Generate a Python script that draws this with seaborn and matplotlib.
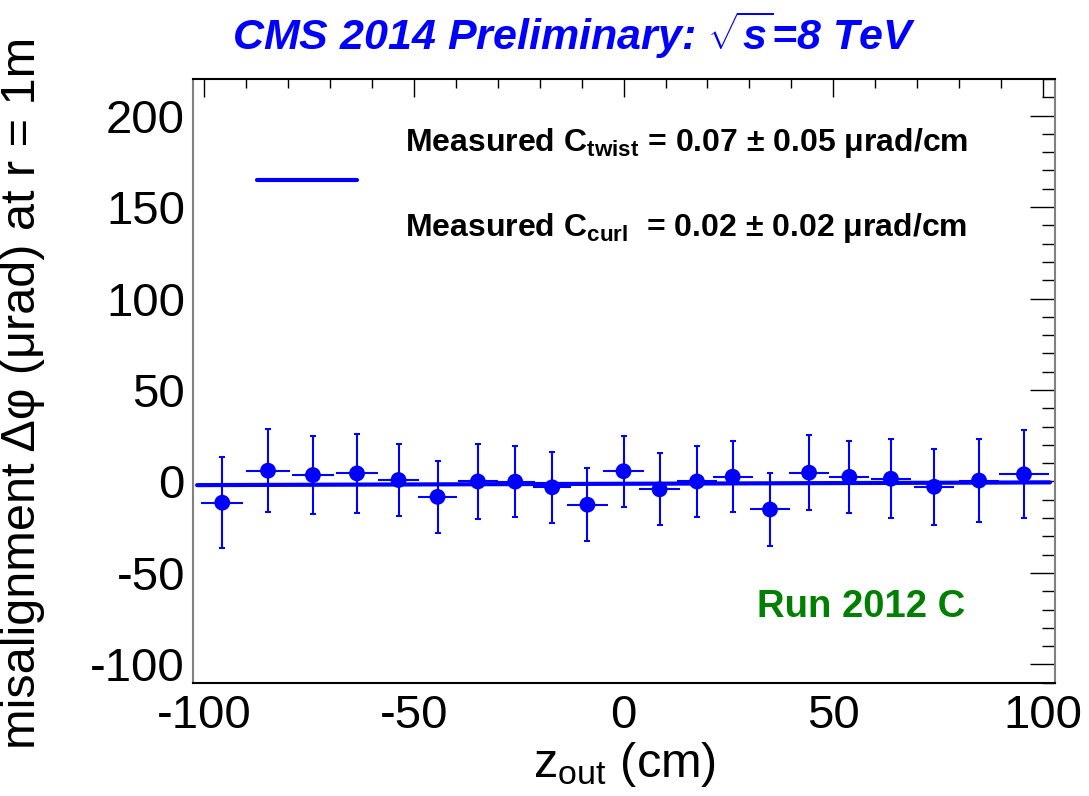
import numpy as np
import pandas as pd
import matplotlib.pyplot as plt
import seaborn as sns
from matplotlib.ticker import MultipleLocator

# Data
z_out = [-95.6, -84.7, -74.0, -63.5, -53.6, -44.3, -34.7, -25.8, -17.0, -8.6,
         0.0, 8.6, 17.5, 26.0, 34.9, 44.2, 53.8, 63.7, 74.0, 84.7, 95.4]
z_err = [5.0, 5.3, 5.0, 5.0, 4.8, 4.7, 4.8, 4.7, 4.6, 4.8,
         4.8, 4.8, 4.8, 4.8, 4.8, 4.8, 4.8, 4.8, 4.8, 4.8, 6.0]
dphi = [-11.6, 5.9, 3.5, 4.4, 0.8, -8.4, 0.0, -0.1, -3.2, -12.7,
        5.6, -4.3, 0.0, 2.6, -15.3, 4.8, 2.5, 1.5, -2.9, 0.5, 3.9]
dphi_err = [25.0, 22.6, 21.1, 21.8, 19.6, 19.8, 20.5, 19.4, 19.5, 20.0,
            19.5, 19.6, 19.4, 19.5, 20.2, 20.6, 19.8, 21.6, 20.9, 22.6, 24.1]

# fitted curve end points
fit_z = [-101.6, 101.6]
fit_dphi = [-2.0, -0.5]

df = pd.DataFrame({'z': z_out, 'dphi': dphi})
fit = pd.DataFrame({'z': fit_z, 'dphi': fit_dphi})

sns.set_theme(style='white')
plt.rcParams['font.family'] = ['Liberation Sans', 'DejaVu Sans']
plt.rcParams['text.color'] = 'black'
plt.rcParams['axes.labelcolor'] = 'black'
plt.rcParams['xtick.color'] = 'black'
plt.rcParams['ytick.color'] = 'black'
plt.rcParams['axes.unicode_minus'] = False
plt.rcParams['mathtext.fontset'] = 'custom'
plt.rcParams['mathtext.rm'] = 'Liberation Sans'
plt.rcParams['mathtext.it'] = 'Liberation Sans:italic:bold'
plt.rcParams['mathtext.bf'] = 'Liberation Sans:bold'
plt.rcParams['mathtext.sf'] = 'Liberation Sans'

fig = plt.figure(figsize=(10.89, 7.96), dpi=100)
ax = fig.add_axes([0.1775, 0.1423, 0.7913, 0.7585])

# error bars: y with small end caps, x without
ax.errorbar(z_out, dphi, yerr=dphi_err, fmt='none', ecolor='blue',
            elinewidth=1.5, capsize=2.5, capthick=1.5, zorder=2)
ax.errorbar(z_out, dphi, xerr=z_err, fmt='none', ecolor='blue',
            elinewidth=1.5, capsize=0, zorder=2)
sns.lineplot(data=fit, x='z', y='dphi', color='blue', linewidth=3, ax=ax, zorder=2)
sns.scatterplot(data=df, x='z', y='dphi', color='blue', s=130, edgecolor='none',
                ax=ax, zorder=3)

ax.set_xlim(-102.5, 102.8)
ax.set_ylim(-110, 220)
ax.xaxis.set_major_locator(MultipleLocator(50))
ax.xaxis.set_minor_locator(MultipleLocator(10))
ax.yaxis.set_major_locator(MultipleLocator(50))
ax.yaxis.set_minor_locator(MultipleLocator(10))

ax.tick_params(which='both', direction='in', top=True, right=True, width=1)
ax.tick_params(axis='x', which='major', length=13, labelsize=34, pad=8)
ax.tick_params(axis='x', which='minor', length=6.5)
ax.tick_params(axis='y', which='major', length=18, labelsize=34, pad=6)
ax.tick_params(axis='y', which='minor', length=9.5)
for side, s in ax.spines.items():
    s.set_color('#808080' if side in ('left', 'right') else 'black')
    s.set_linewidth(1.5)

ax.set_xlabel(r'z$_{\mathrm{out}}$ (cm)', fontsize=35)
ax.set_ylabel('misalignment Δφ (μrad) at r = 1m', fontsize=35)
ax.xaxis.set_label_coords(0.5, -0.095)
ax.yaxis.set_label_coords(-0.172, 0.48)

# legend-like entry
ax.plot([0.074, 0.19], [0.833, 0.833], color='blue', linewidth=3,
        transform=ax.transAxes)
ax.text(0.2457, 0.88, r'Measured C$_{\mathbf{twist}}$ = 0.07 ± 0.05 μrad/cm',
        transform=ax.transAxes, fontsize=23, fontweight='bold', va='baseline')
ax.text(0.2457, 0.74, r'Measured C$_{\mathbf{curl}}$  = 0.02 ± 0.02 μrad/cm',
        transform=ax.transAxes, fontsize=23, fontweight='bold', va='baseline')
ax.text(0.654, 0.125, 'Run 2012 C', transform=ax.transAxes, fontsize=27.5,
        fontweight='bold', color='#008000', va='center')

fig.text(0.527, 0.937, r'CMS 2014 Preliminary: $\sqrt{s}$=8 TeV', ha='center',
         va='baseline', fontsize=31, fontweight='bold', fontstyle='italic',
         color='blue')

fig.savefig('out.png', dpi=100)
